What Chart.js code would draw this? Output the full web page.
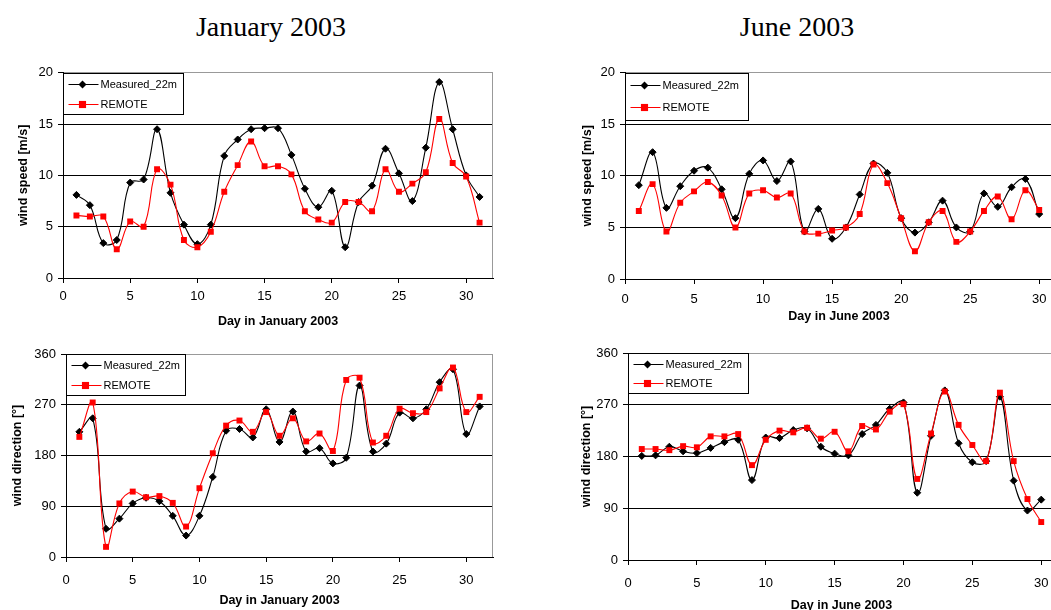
<!DOCTYPE html>
<html>
<head>
<meta charset="utf-8">
<script src="https://cdn.jsdelivr.net/npm/chart.js@4/dist/chart.umd.min.js"></script>
<style>
  html, body { margin: 0; padding: 0; background: #fff; overflow: hidden; }
  body { width: 1051px; height: 610px; position: relative; }
  .title { position: absolute; width: 300px; text-align: center; font-family: "Liberation Serif", "Times New Roman", serif;
           font-size: 28px; line-height: 28px; color: #000; }
  canvas { position: absolute; }
</style>
</head>
<body>
<div class="title" style="left:121px; top:13px;">January 2003</div>
<div class="title" style="left:647px; top:13px;">June 2003</div>
<canvas id="janSpeed" width="520" height="275" style="left:0px; top:60px;"></canvas>
<canvas id="junSpeed" width="500" height="275" style="left:560px; top:60px;"></canvas>
<canvas id="janDir" width="520" height="280" style="left:0px; top:340px;"></canvas>
<canvas id="junDir" width="500" height="280" style="left:560px; top:340px;"></canvas>
<script>
// Datos
var janDays = [1, 2, 3, 4, 5, 6, 7, 8, 9, 10, 11, 12, 13, 14, 15, 16, 17, 18, 19, 20, 21, 22, 23, 24, 25, 26, 27, 28, 29, 30, 31];
var junDays = [1, 2, 3, 4, 5, 6, 7, 8, 9, 10, 11, 12, 13, 14, 15, 16, 17, 18, 19, 20, 21, 22, 23, 24, 25, 26, 27, 28, 29, 30];

var seriesNames = ["Measured_22m", "REMOTE"];

var janSpeedMeasured = [8.1, 7.1, 3.4, 3.7, 9.3, 9.6, 14.5, 8.3, 5.2, 3.3, 5.2, 11.9, 13.5, 14.5, 14.6, 14.6, 12.0, 8.7, 6.9, 8.5, 3.0, 7.4, 9.0, 12.6, 10.2, 7.5, 12.7, 19.1, 14.5, 10.0, 7.9];
var janSpeedRemote = [6.1, 6.0, 6.0, 2.8, 5.5, 5.0, 10.6, 9.1, 3.7, 3.0, 4.5, 8.4, 11.0, 13.3, 10.9, 10.9, 10.1, 6.5, 5.7, 5.4, 7.4, 7.4, 6.5, 10.6, 8.4, 9.2, 10.3, 15.5, 11.2, 9.9, 5.4];

var junSpeedMeasured = [9.1, 12.3, 6.9, 9.0, 10.5, 10.8, 8.7, 5.9, 10.2, 11.5, 9.5, 11.4, 4.6, 6.8, 3.9, 5.0, 8.2, 11.2, 10.3, 5.9, 4.5, 5.5, 7.6, 5.0, 4.6, 8.3, 7.0, 8.9, 9.7, 6.3];
var junSpeedRemote = [6.6, 9.2, 4.6, 7.4, 8.5, 9.4, 8.1, 5.0, 8.3, 8.6, 7.9, 8.3, 4.6, 4.4, 4.7, 5.0, 6.3, 11.1, 9.3, 5.9, 2.7, 5.5, 6.6, 3.6, 4.6, 6.6, 8.0, 5.8, 8.6, 6.7];

var janDirMeasured = [222, 246, 50, 68, 95, 105, 99, 73, 38, 73, 142, 224, 227, 212, 262, 204, 258, 187, 193, 166, 176, 304, 187, 201, 256, 246, 262, 310, 333, 218, 267];
var janDirRemote = [213, 274, 18, 95, 116, 106, 108, 96, 54, 122, 184, 233, 242, 222, 257, 215, 246, 205, 219, 188, 314, 318, 203, 215, 263, 255, 257, 299, 336, 257, 284];

var junDirMeasured = [181, 182, 197, 189, 186, 195, 205, 209, 139, 213, 212, 226, 229, 197, 185, 182, 219, 235, 263, 274, 117, 216, 295, 203, 170, 172, 284, 138, 86, 105];
var junDirRemote = [193, 193, 191, 198, 196, 215, 215, 219, 165, 209, 225, 222, 230, 211, 223, 189, 233, 227, 258, 271, 141, 220, 293, 235, 200, 172, 291, 172, 106, 66];

var dayTicks = [0, 5, 10, 15, 20, 25, 30];
var speedTicks = [0, 5, 10, 15, 20];
var dirTicks = [0, 90, 180, 270, 360];

var FONT = "'Liberation Sans', Arial, sans-serif";

// Leyenda con recuadro dentro del area del grafico
var boxLegend = {
    id: 'boxLegend',
    beforeDatasetsDraw: function (chart) {
        var a = chart.chartArea, ctx = chart.ctx;
        ctx.save();
        ctx.strokeStyle = '#999';
        ctx.lineWidth = 1;
        ctx.beginPath();
        ctx.moveTo(Math.round(a.right) - 0.5, a.top);
        ctx.lineTo(Math.round(a.right) - 0.5, a.bottom);
        ctx.stroke();
        ctx.restore();
    },
    afterDraw: function (chart, args, opts) {
        var a = chart.chartArea, ctx = chart.ctx;
        var x0 = Math.round(a.left) + 0.5, y0 = Math.round(a.top) + 0.5;
        ctx.save();
        ctx.fillStyle = '#fff';
        ctx.fillRect(x0, y0, opts.w, opts.h);
        ctx.strokeStyle = '#000';
        ctx.lineWidth = 1;
        ctx.strokeRect(x0, y0, opts.w, opts.h);
        ctx.font = '11px ' + FONT;
        ctx.textBaseline = 'middle';
        chart.data.datasets.forEach(function (ds, i) {
            var y = y0 + opts.rows[i];
            ctx.strokeStyle = ds.borderColor;
            ctx.beginPath();
            ctx.moveTo(x0 + 5, y);
            ctx.lineTo(x0 + 35, y);
            ctx.stroke();
            var mx = x0 + 19, r = ds.pointRadius;
            ctx.fillStyle = ds.pointBackgroundColor;
            ctx.beginPath();
            if (ds.pointStyle === 'rectRot') {
                ctx.moveTo(mx, y - r - 0.5);
                ctx.lineTo(mx + r + 0.5, y);
                ctx.lineTo(mx, y + r + 0.5);
                ctx.lineTo(mx - r - 0.5, y);
                ctx.closePath();
            } else {
                ctx.rect(mx - r * 0.85, y - r * 0.85, r * 1.7, r * 1.7);
            }
            ctx.fill();
            ctx.fillStyle = '#000';
            ctx.fillText(ds.label, x0 + 37, y + 0.5);
        });
        ctx.restore();
    }
};

function makePoints(days, vals) {
    return days.map(function (d, i) { return { x: d, y: vals[i] }; });
}

function createPanel(id, g, days, measured, remote, yTicks, yTitle, xTitle, xMax) {
    var canvas = document.getElementById(id);
    var yMax = yTicks[yTicks.length - 1];
    new Chart(canvas.getContext('2d'), {
        type: 'line',
        data: {
            datasets: [{
                label: seriesNames[0],
                data: makePoints(days, measured),
                borderColor: '#000',
                backgroundColor: '#000',
                borderWidth: 1.1,
                pointStyle: 'rectRot',
                pointRadius: 3.5,
                pointBackgroundColor: '#000',
                pointBorderColor: '#000',
                pointBorderWidth: 1,
                tension: 0.4,
                order: 1
            }, {
                label: seriesNames[1],
                data: makePoints(days, remote),
                borderColor: '#ff0000',
                backgroundColor: '#ff0000',
                borderWidth: 1.1,
                pointStyle: 'rect',
                pointRadius: 4.2,
                pointBackgroundColor: '#ff0000',
                pointBorderColor: '#ff0000',
                pointBorderWidth: 0,
                tension: 0.4,
                order: 0
            }]
        },
        plugins: [boxLegend],
        options: {
            responsive: false,
            animation: false,
            devicePixelRatio: 1,
            layout: { padding: { top: g.top, right: canvas.width - g.right, left: 0, bottom: 0 } },
            plugins: {
                legend: { display: false },
                tooltip: { enabled: false },
                boxLegend: g.legend
            },
            scales: {
                x: {
                    type: 'linear',
                    min: 0,
                    max: xMax,
                    afterBuildTicks: function (s) { s.ticks = dayTicks.map(function (v) { return { value: v }; }); },
                    afterFit: function (s) { s.height = canvas.height - g.bottom; },
                    ticks: { color: '#000', font: { family: FONT, size: 13 }, padding: g.xTickPad, maxRotation: 0 },
                    grid: { drawOnChartArea: false, drawTicks: true, tickLength: 5, tickColor: '#000' },
                    border: { color: '#000', width: 1 },
                    title: {
                        display: true, text: xTitle, color: '#000',
                        font: { family: FONT, size: 12.5, weight: 'bold' },
                        padding: { top: 0, bottom: g.xTitlePad }
                    }
                },
                y: {
                    min: 0,
                    max: yMax,
                    afterBuildTicks: function (s) { s.ticks = yTicks.map(function (v) { return { value: v }; }); },
                    afterFit: function (s) { s.width = g.left; },
                    ticks: { color: '#000', font: { family: FONT, size: 13 }, padding: 5 },
                    grid: {
                        color: function (c) { return c.tick && c.tick.value === yMax ? '#999' : '#000'; },
                        lineWidth: 1, drawTicks: true, tickLength: 5, tickColor: '#000'
                    },
                    border: { color: '#000', width: 1 },
                    title: {
                        display: true, text: yTitle, color: '#000',
                        font: { family: FONT, size: 12.5, weight: 'bold' },
                        padding: { top: g.yTitlePad, bottom: 0 }
                    }
                }
            }
        }
    });
}

createPanel('janSpeed',
    { left: 63, top: 11, right: 493, bottom: 218, yTitlePad: 16, xTickPad: 6, xTitlePad: 6, legend: { w: 120, h: 41, rows: [11, 31] } },
    janDays, janSpeedMeasured, janSpeedRemote, speedTicks, 'wind speed [m/s]', 'Day in January 2003', 32);

createPanel('junSpeed',
    { left: 65, top: 9, right: 493, bottom: 219, yTitlePad: 20, xTickPad: 8, xTitlePad: 11, legend: { w: 123, h: 47, rows: [12, 34] } },
    junDays, junSpeedMeasured, junSpeedRemote, speedTicks, 'wind speed [m/s]', 'Day in June 2003', 31);

createPanel('janDir',
    { left: 66, top: 14, right: 493, bottom: 217, yTitlePad: 10, xTickPad: 11, xTitlePad: 12, legend: { w: 119, h: 41, rows: [11, 31] } },
    janDays, janDirMeasured, janDirRemote, dirTicks, 'wind direction [°]', 'Day in January 2003', 32);

createPanel('junDir',
    { left: 68, top: 13, right: 495, bottom: 220, yTitlePad: 19, xTickPad: 11, xTitlePad: 7, legend: { w: 120, h: 40, rows: [11, 30] } },
    junDays, junDirMeasured, junDirRemote, dirTicks, 'wind direction [°]', 'Day in June 2003', 31);
</script>
</body>
</html>
